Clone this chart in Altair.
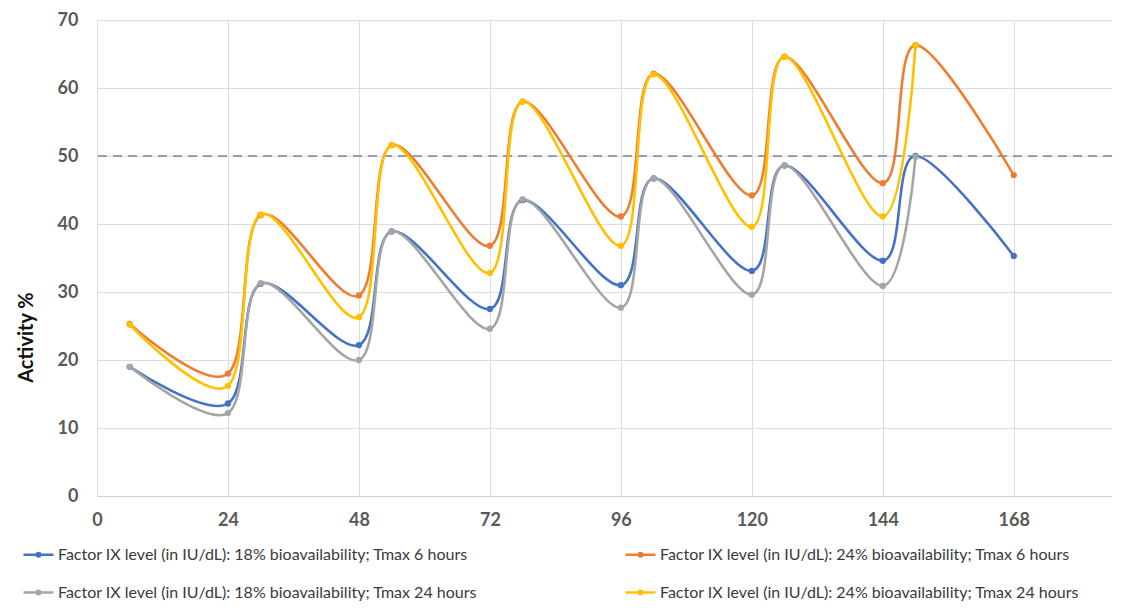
import altair as alt
import pandas as pd

# ---- data ----
series_names = [
    "Factor IX level (in IU/dL): 18% bioavailability; Tmax 6 hours",
    "Factor IX level (in IU/dL): 24% bioavailability; Tmax 6 hours",
    "Factor IX level (in IU/dL): 18% bioavailability; Tmax 24 hours",
    "Factor IX level (in IU/dL): 24% bioavailability; Tmax 24 hours",
]
series_colors = ["#4472C4", "#ED7D31", "#A5A5A5", "#FFC000"]

hours_long = [6, 24, 30, 48, 54, 72, 78, 96, 102, 120, 126, 144, 150, 168]
hours_short = [6, 24, 30, 48, 54, 72, 78, 96, 102, 120, 126, 144, 150]

blue_18_6 = [19.0, 13.6, 31.2, 22.2, 38.9, 27.5, 43.5, 31.0, 46.7, 33.1, 48.6, 34.6, 50.0, 35.3]
orange_24_6 = [25.3, 18.0, 41.3, 29.5, 51.6, 36.8, 58.0, 41.1, 62.1, 44.2, 64.6, 46.0, 66.3, 47.2]
gray_18_24 = [19.0, 12.2, 31.3, 20.0, 38.9, 24.6, 43.6, 27.7, 46.7, 29.6, 48.6, 30.9, 49.9]
yellow_24_24 = [25.2, 16.2, 41.4, 26.3, 51.6, 32.8, 58.0, 36.8, 62.0, 39.6, 64.6, 41.1, 66.3]

x_ticks = [0, 24, 48, 72, 96, 120, 144, 168]
y_ticks = [0, 10, 20, 30, 40, 50, 60, 70]
threshold = 50

rows = []
for name, hrs, vals in [
    (series_names[0], hours_long, blue_18_6),
    (series_names[1], hours_long, orange_24_6),
    (series_names[2], hours_short, gray_18_24),
    (series_names[3], hours_short, yellow_24_24),
]:
    for h, v in zip(hrs, vals):
        rows.append({"hour": h, "activity": v, "series": name})
df = pd.DataFrame(rows)

FONT = "Lato"

color_scale = alt.Scale(domain=series_names, range=series_colors)

x_enc = alt.X(
    "hour:Q",
    scale=alt.Scale(domain=[0, 186], nice=False, zero=True),
    axis=alt.Axis(
        values=x_ticks, title=None, ticks=False, tickSize=0,
        labelPadding=15, labelFont=FONT, labelFontSize=18, labelFontWeight="bold",
        labelColor="#595959", domainColor="#d0d0d0", domainWidth=1.2,
        grid=True, gridColor="#dcdcdc", gridWidth=1, labelFlush=False,
    ),
)
y_enc = alt.Y(
    "activity:Q",
    scale=alt.Scale(domain=[0, 70], nice=False),
    axis=alt.Axis(
        values=y_ticks, title="Activity %", ticks=False, tickSize=0,
        labelPadding=19, labelFont=FONT, labelFontSize=18, labelFontWeight="bold",
        labelColor="#595959", domainColor="#dcdcdc", domainWidth=1,
        grid=True, gridColor="#dcdcdc", gridWidth=1,
        titleFont=FONT, titleFontSize=20, titleFontWeight="bold", titleColor="#111111",
        titleAngle=270, titleX=-71, titleY=317, titleAlign="center", titleBaseline="middle",
    ),
)

legend_symbol = "M-1,0H1M-0.12,0A0.12,0.12,0,1,0,0.12,0A0.12,0.12,0,1,0,-0.12,0"

lines = alt.Chart(df).mark_line(
    interpolate="cardinal", tension=0, strokeWidth=2.6
).encode(
    x=x_enc,
    y=y_enc,
    color=alt.Color(
        "series:N",
        scale=color_scale,
        sort=series_names,
        legend=alt.Legend(
            orient="none", legendX=-75, legendY=518, columns=2, direction="horizontal",
            title=None, padding=0, labelFont=FONT, labelFontSize=16, labelColor="#3a3a3a",
            labelLimit=0, labelOffset=3, symbolType=legend_symbol, symbolSize=900,
            symbolStrokeWidth=2.5, columnPadding=142, rowPadding=13,
        ),
    ),
    detail="series:N",
)

points = alt.Chart(df).mark_circle(size=40, opacity=1).encode(
    x="hour:Q",
    y="activity:Q",
    color=alt.Color("series:N", scale=color_scale, legend=None),
)

ref = alt.Chart(pd.DataFrame({"level": [threshold]})).mark_rule(
    color="#7286aa", strokeWidth=1.6, strokeDash=[9, 6]
).encode(y="level:Q")

chart = (
    alt.layer(ref, lines, points)
    .properties(
        width=1015,
        height=476,
        autosize=alt.AutoSizeParams(type="none"),
        padding={"left": 89, "top": 12, "right": 0, "bottom": 110},
    )
    .configure_view(stroke=None)
    .configure(background="white")
)

chart.save("out.html", embed_options={"renderer": "svg", "actions": False})
